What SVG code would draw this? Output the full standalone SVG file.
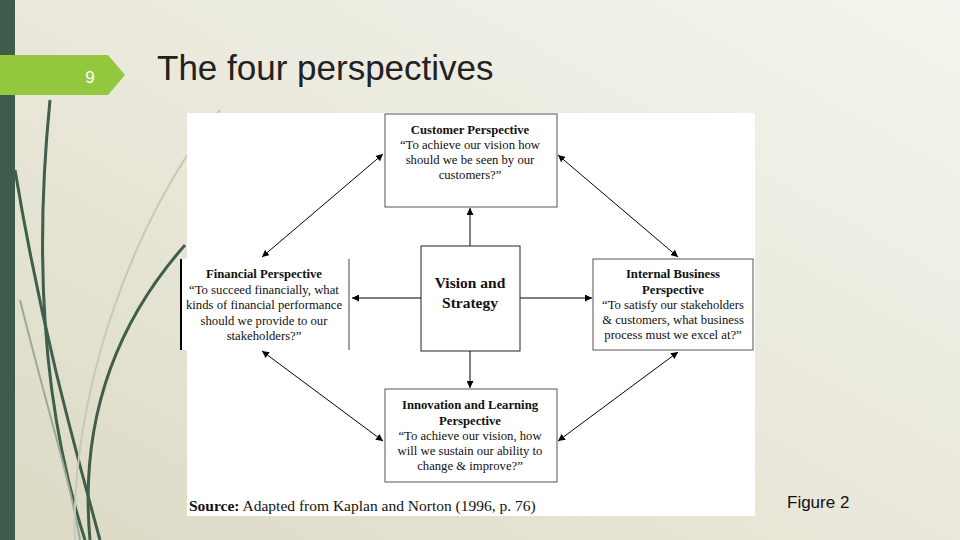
<svg xmlns="http://www.w3.org/2000/svg" width="960" height="540" viewBox="0 0 960 540">
<defs>
<linearGradient id="bg" x1="0" y1="1" x2="1" y2="0"><stop offset="0" stop-color="#dcdac4"/><stop offset="0.6" stop-color="#ecebdf"/><stop offset="1" stop-color="#f4f4ee"/></linearGradient>
<marker id="ah" viewBox="0 0 10 10" refX="10" refY="5" markerWidth="7" markerHeight="7" orient="auto-start-reverse"><path d="M0,0 L10,5 L0,10 z" fill="#000"/></marker>
<style>
.b{fill:#fff;stroke:#555;stroke-width:1}
.t{font-family:"Liberation Serif",serif;font-size:12.7px;text-anchor:middle;fill:#111}
.h{font-weight:bold}
.c line{stroke:#000;stroke-width:1;marker-end:url(#ah)}
.c line.d{marker-start:url(#ah)}
.deco{fill:none;stroke:#3f5f4c;stroke-width:3}
</style>
</defs>
<rect width="960" height="540" fill="url(#bg)"/>
<rect width="15" height="540" fill="#3e5c4c"/>
<g class="deco">
<path d="M50,100 C35,250 40,400 85,540"/>
<path d="M15,170 C40,320 70,430 100,540"/>
<path d="M185,245 C110,330 80,430 90,540" stroke-width="3"/>
<path d="M20,300 C50,420 70,480 80,540" stroke="#9aaa9a" stroke-width="2"/>
<path d="M220,110 C130,220 70,400 75,540" stroke="#c8c8b8" stroke-width="2"/>
</g>
<g id="tab"><path d="M0,55 H108 L125,75 L108,95 H0 z" fill="#93c83e"/><text x="90" y="83" font-family="Liberation Sans,sans-serif" font-size="17" fill="#fff" text-anchor="middle">9</text></g>
<text x="157" y="80" font-family="Liberation Sans,sans-serif" font-size="35" fill="#222">The four perspectives</text>
<rect x="187" y="113" width="568" height="403" fill="#fff"/>
<g class="c">
<line x1="470" y1="246" x2="470" y2="208"/>
<line x1="421" y1="298" x2="352" y2="298"/>
<line x1="520" y1="298" x2="592" y2="298"/>
<line x1="470" y1="351" x2="470" y2="388"/>
<line class="d" x1="383" y1="154" x2="262" y2="257"/>
<line class="d" x1="558" y1="155" x2="678" y2="257"/>
<line class="d" x1="262" y1="351" x2="383" y2="441"/>
<line class="d" x1="678" y1="352" x2="558" y2="441"/>
</g>
<g id="customer"><rect class="b" x="385" y="114" width="172" height="93"/>
<text class="t" x="470" y="134"><tspan class="h">Customer Perspective</tspan><tspan x="470" dy="15">“To achieve our vision how</tspan><tspan x="470" dy="15">should we be seen by our</tspan><tspan x="470" dy="15">customers?”</tspan></text></g>
<g id="vision"><rect x="421" y="246" width="99" height="105" fill="#fff" stroke="#222"/>
<text class="t h" x="470" y="288" style="font-size:15.5px">Vision and<tspan x="470" dy="20">Strategy</tspan></text></g>
<g id="financial"><rect x="181" y="259" width="168" height="91" fill="#fff"/><line x1="181" y1="259" x2="181" y2="350" stroke="#000" stroke-width="2"/><line x1="349" y1="259" x2="349" y2="350" stroke="#444"/>
<text class="t" x="264" y="278"><tspan class="h">Financial Perspective</tspan><tspan x="264" dy="15.5">“To succeed financially, what</tspan><tspan x="264" dy="15.5">kinds of financial performance</tspan><tspan x="264" dy="15.5">should we provide to our</tspan><tspan x="264" dy="15.5">stakeholders?”</tspan></text></g>
<g id="internal"><rect class="b" x="593" y="259" width="160" height="91"/>
<text class="t" x="673" y="278"><tspan class="h">Internal Business</tspan><tspan class="h" x="673" dy="16">Perspective</tspan><tspan x="673" dy="15">“To satisfy our stakeholders</tspan><tspan x="673" dy="15">&amp; customers, what business</tspan><tspan x="673" dy="15">process must we excel at?”</tspan></text></g>
<g id="innovation"><rect class="b" x="385" y="389" width="172" height="93"/>
<text class="t" x="470" y="409"><tspan class="h">Innovation and Learning</tspan><tspan class="h" x="470" dy="16">Perspective</tspan><tspan x="470" dy="15">“To achieve our vision, how</tspan><tspan x="470" dy="15">will we sustain our ability to</tspan><tspan x="470" dy="15">change &amp; improve?”</tspan></text></g>
<text x="189" y="511" font-family="Liberation Serif,serif" font-size="15.5" fill="#111"><tspan font-weight="bold">Source:</tspan> Adapted from Kaplan and Norton (1996, p. 76)</text>
<text x="787" y="508" font-family="Liberation Sans,sans-serif" font-size="17" fill="#111">Figure 2</text>
</svg>
